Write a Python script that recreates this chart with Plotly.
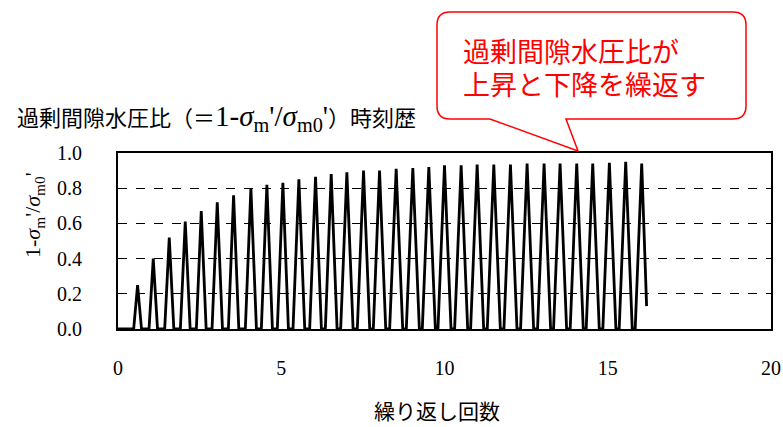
import plotly.graph_objects as go

# ---- data ----
peak_cycle = [0.60, 1.08, 1.57, 2.06, 2.55, 3.04, 3.54, 4.07, 4.56, 5.05, 5.54, 6.05,
              6.53, 7.01, 7.52, 8.01, 8.52, 9.03, 9.52, 10.00, 10.51, 11.00, 11.51,
              12.02, 12.53, 13.05, 13.54, 14.05, 14.54, 15.05, 15.55, 16.04]
peak_ratio = [0.25, 0.40, 0.52, 0.61, 0.67, 0.72, 0.76, 0.80, 0.82, 0.83, 0.85, 0.865,
              0.88, 0.89, 0.90, 0.90, 0.91, 0.915, 0.92, 0.93, 0.93, 0.935, 0.935,
              0.935, 0.94, 0.94, 0.94, 0.94, 0.94, 0.945, 0.95, 0.94]
half_width = [0.12, 0.13, 0.14, 0.15, 0.15, 0.16, 0.16, 0.17, 0.17, 0.17, 0.18, 0.18,
              0.18, 0.19, 0.19, 0.19, 0.20, 0.20, 0.20, 0.20, 0.20, 0.20, 0.20,
              0.20, 0.20, 0.20, 0.20, 0.20, 0.20, 0.20, 0.20, 0.20]
end_cycle = 16.19
end_ratio = 0.13

x_ticks = [0, 5, 10, 15, 20]
y_ticks = [0.0, 0.2, 0.4, 0.6, 0.8, 1.0]

formula = ("（＝<span style='font-family:Liberation Serif;font-size:29px'>1-<i>σ</i><sub>m</sub>'"
           "/<i>σ</i><sub>m0</sub>'</span>）")
title_text = "過剰間隙水圧比" + formula + "時刻歴"
ytitle_text = "1-<i>σ</i><sub>m</sub>'/<i>σ</i><sub>m0</sub>'"
xtitle_text = "繰り返し回数"
callout_lines = ["過剰間隙水圧比が", "上昇と下降を繰返す"]

# ---- build zigzag vertices ----
xs, ys = [0.0], [0.0]
for i, (p, v, h) in enumerate(zip(peak_cycle, peak_ratio, half_width)):
    xs += [p - h, p]
    ys += [0.0, v]
    if i < len(peak_cycle) - 1:
        xs.append(p + h)
        ys.append(0.0)
xs.append(end_cycle)
ys.append(end_ratio)

W, H = 783, 427
L, R, T, B = 118, 771, 153, 329  # plot area in px

def px(xp):
    return (xp - L) / (R - L)

def py(yp):
    return (B - yp) / (B - T)

fig = go.Figure()
fig.add_trace(go.Scatter(x=xs, y=ys, mode="lines",
                         line=dict(color="black", width=2.8), showlegend=False))

serif = "Liberation Serif, Times New Roman, serif"
cjk = "Noto Sans CJK JP, sans-serif"

fig.update_layout(
    width=W, height=H,
    margin=dict(l=L, r=W - R, t=T, b=H - B, pad=0, autoexpand=False),
    paper_bgcolor="white", plot_bgcolor="white",
    xaxis=dict(range=[0, 20], tickvals=x_ticks, ticktext=[str(v) for v in x_ticks],
               showgrid=False, zeroline=False, showline=True, linecolor="black",
               linewidth=2, mirror=True, ticks="", ticklabelstandoff=20, automargin=False,
               tickfont=dict(family=serif, size=20, color="black")),
    yaxis=dict(range=[0, 1.0], tickvals=y_ticks, ticktext=[f"{v:.1f}" for v in y_ticks],
               showgrid=True, gridcolor="black", gridwidth=1.2, griddash="dash",
               zeroline=False, showline=True, linecolor="black", linewidth=2,
               mirror=True, ticks="outside", ticklen=30, tickcolor="rgba(0,0,0,0)",
               automargin=False,
               tickfont=dict(family=serif, size=20, color="black")),
)

# callout bubble
r = 13
x0, x1, y0, y1 = 437, 746, 12, 119
pts = [
    ("M", (x0 + r, y0)), ("L", (x1 - r, y0)), ("Q", (x1, y0), (x1, y0 + r)),
    ("L", (x1, y1 - r)), ("Q", (x1, y1), (x1 - r, y1)),
    ("L", (566, y1)), ("L", (578, 151)), ("L", (490, y1)),
    ("L", (x0 + r, y1)), ("Q", (x0, y1), (x0, y1 - r)),
    ("L", (x0, y0 + r)), ("Q", (x0, y0), (x0 + r, y0)),
]
path = ""
for cmd, *cs in pts:
    path += cmd + " " + " ".join(f"{px(a):.5f},{py(b):.5f}" for a, b in cs) + " "
path += "Z"
fig.add_shape(type="path", path=path, xref="paper", yref="paper",
              line=dict(color="#ff0000", width=1.5), fillcolor="white", layer="above")

for txt, yc in zip(callout_lines, [50, 83]):
    fig.add_annotation(text=txt, xref="paper", yref="paper", x=px(461), y=py(yc),
                       xanchor="left", yanchor="middle", showarrow=False,
                       font=dict(family=cjk, size=27, color="#ff0000"))

fig.add_annotation(text=title_text, xref="paper", yref="paper", x=px(15), y=py(118),
                   xanchor="left", yanchor="middle", showarrow=False,
                   font=dict(family=cjk, size=22, color="black"))
fig.add_annotation(text=ytitle_text, xref="paper", yref="paper", x=px(34), y=py(215),
                   xanchor="center", yanchor="middle", showarrow=False, textangle=-90,
                   font=dict(family=serif, size=22, color="black"))
fig.add_annotation(text=xtitle_text, xref="paper", yref="paper", x=px(437), y=py(410),
                   xanchor="center", yanchor="middle", showarrow=False,
                   font=dict(family=cjk, size=21, color="black"))

fig.write_html("out.html", config={"displayModeBar": False},
               post_script="document.body.style.margin='0';document.body.style.overflow='hidden';")
